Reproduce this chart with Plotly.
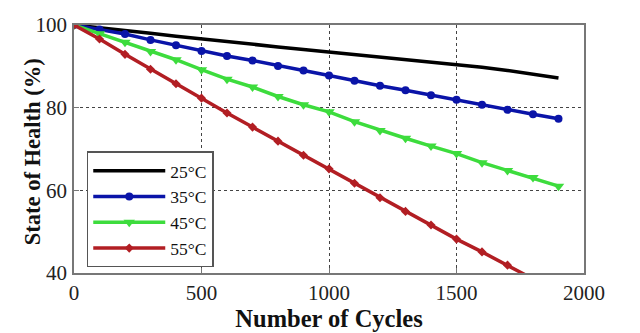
import plotly.graph_objects as go

cycles = [0, 100, 200, 300, 400, 500, 600, 700, 800, 900, 1000,
          1100, 1200, 1300, 1400, 1500, 1600, 1700, 1800, 1900]

soh_25 = [100, 99.4, 98.7, 98.0, 97.3, 96.6, 96.0, 95.3, 94.7, 94.1, 93.5,
          92.9, 92.3, 91.7, 91.0, 90.4, 89.8, 89.0, 88.2, 87.2]
soh_35 = [100, 98.9, 97.8, 96.4, 95.1, 93.7, 92.5, 91.4, 90.1, 89.0, 87.8,
          86.5, 85.3, 84.2, 83.0, 81.9, 80.7, 79.5, 78.4, 77.3]
soh_45 = [100, 97.9, 95.8, 93.6, 91.6, 89.2, 86.9, 85.0, 82.7, 80.7, 79.0,
          76.6, 74.5, 72.6, 70.7, 68.9, 66.7, 64.8, 63.1, 61.0]
soh_55 = [100, 96.6, 92.9, 89.3, 85.8, 82.3, 78.7, 75.3, 71.9, 68.5, 65.2,
          61.7, 58.2, 54.9, 51.6, 48.2, 45.1, 41.9, 38.6, 35.3]

labels = ["25°C", "35°C", "45°C", "55°C"]
x_ticks = [0, 500, 1000, 1500, 2000]
y_ticks = [40, 60, 80, 100]

serif = "Liberation Serif"

fig = go.Figure()
fig.add_trace(go.Scatter(x=cycles, y=soh_25, name=labels[0], mode="lines",
                         line=dict(color="#000000", width=3.5)))
fig.add_trace(go.Scatter(x=cycles, y=soh_35, name=labels[1], mode="lines+markers",
                         line=dict(color="#0a14a8", width=3.5),
                         marker=dict(symbol="circle", size=8, color="#0a14a8")))
fig.add_trace(go.Scatter(x=cycles, y=soh_45, name=labels[2], mode="lines+markers",
                         line=dict(color="#3ddc3d", width=3.5),
                         marker=dict(symbol="triangle-down", size=10, color="#3ddc3d")))
fig.add_trace(go.Scatter(x=cycles, y=soh_55, name=labels[3], mode="lines+markers",
                         line=dict(color="#b21e23", width=3.5),
                         marker=dict(symbol="diamond", size=7, color="#b21e23")))

axis_common = dict(
    showline=True, linecolor="#777777", linewidth=1.5, mirror=True,
    showgrid=True, gridcolor="#444444", griddash="dot", gridwidth=1,
    ticks="inside", ticklen=5, tickcolor="#777777",
    zeroline=False,
    tickfont=dict(family=serif, size=21, color="#222222"),
)

fig.update_xaxes(range=[0, 2000], tickvals=x_ticks, **axis_common,
                 title=dict(text="<b>Number of Cycles</b>", standoff=0,
                            font=dict(family=serif, size=24.5, color="#111111")))
fig.update_yaxes(range=[40, 100], tickvals=y_ticks, **axis_common,
                 ticklabelstandoff=1)

fig.add_annotation(text="<b>State of Health (%)</b>", textangle=-90,
                   xref="paper", yref="paper", x=-0.080, y=0.488,
                   xanchor="center", yanchor="middle", showarrow=False,
                   font=dict(family=serif, size=22.5, color="#111111"))

fig.update_layout(
    width=640, height=333,
    margin=dict(l=74, r=56, t=25, b=60),
    paper_bgcolor="white", plot_bgcolor="white",
    font=dict(family=serif),
    legend=dict(x=0.025, y=0.49, xanchor="left", yanchor="top",
                bgcolor="white", bordercolor="#555555", borderwidth=1.5,
                font=dict(family=serif, size=17.5, color="#111111"),
                tracegroupgap=0, itemwidth=72),
    showlegend=True,
)

fig.write_html("out.html")
